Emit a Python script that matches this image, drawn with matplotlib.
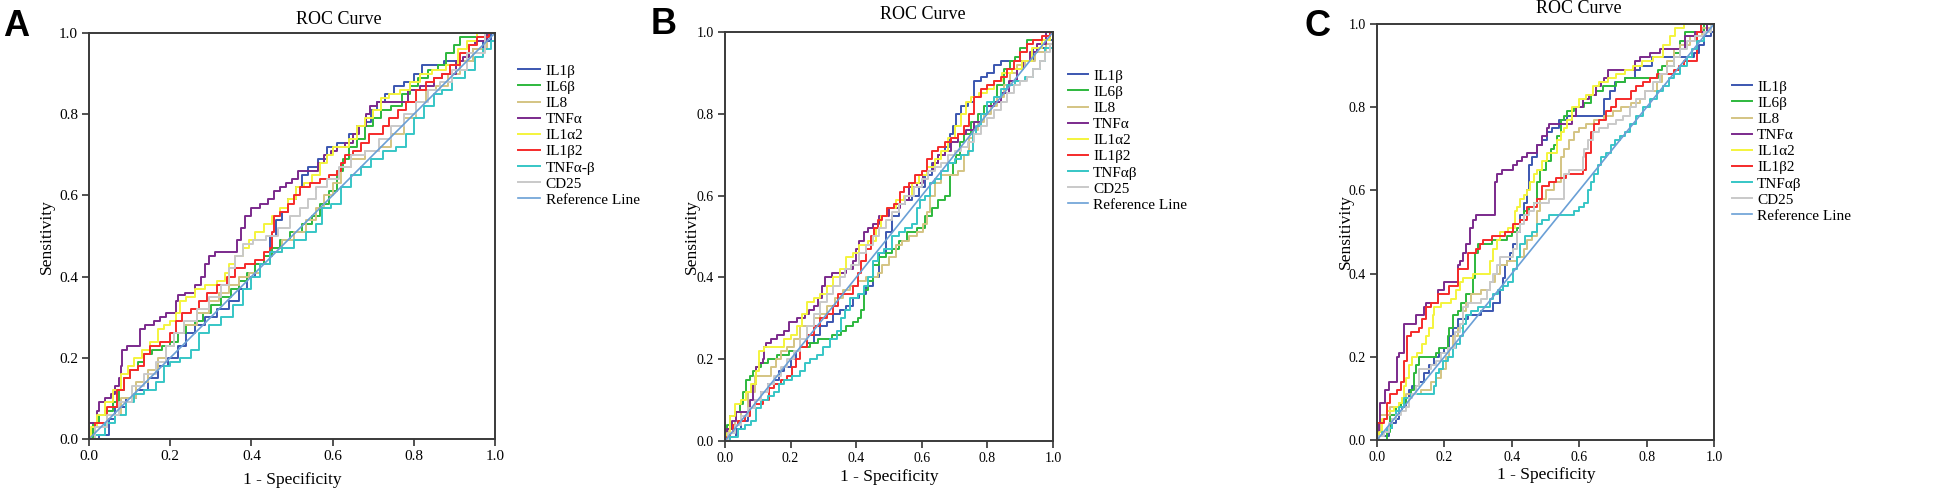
import matplotlib
matplotlib.use("Agg")
import matplotlib.pyplot as plt

plt.rcParams["font.family"] = ["Liberation Serif", "DejaVu Serif"]

# series names (panel A spells TNFα-β, panels B/C TNFαβ)
NAMES_A = ["IL1β", "IL6β", "IL8", "TNFα", "IL1α2", "IL1β2", "TNFα-β", "CD25"]
NAMES_BC = ["IL1β", "IL6β", "IL8", "TNFα", "IL1α2", "IL1β2", "TNFαβ", "CD25"]
COLORS = ["#3b56b0", "#2db83d", "#d4c483", "#7b2a8c", "#f4f43c",
          "#f52a2a", "#36c6c6", "#c9c9c9"]
REF_COLOR = "#6a9fd6"

# ---- panel A: (1 - specificity, sensitivity) vertices ----
A_IL1B = [(0, 0), (0.05, 0.01), (0.05, 0.05), (0.08, 0.08), (0.10, 0.10), (0.13, 0.12), (0.16, 0.15),
          (0.18, 0.18), (0.21, 0.20), (0.23, 0.23), (0.25, 0.26), (0.27, 0.28), (0.30, 0.30), (0.33, 0.32),
          (0.36, 0.34), (0.38, 0.37), (0.40, 0.40), (0.42, 0.43), (0.44, 0.45), (0.45, 0.50), (0.47, 0.54),
          (0.48, 0.56), (0.50, 0.59), (0.52, 0.62), (0.53, 0.65), (0.55, 0.67), (0.58, 0.69), (0.59, 0.72),
          (0.63, 0.73), (0.65, 0.75), (0.67, 0.77), (0.69, 0.78), (0.70, 0.81), (0.72, 0.83), (0.74, 0.85),
          (0.76, 0.87), (0.79, 0.88), (0.81, 0.90), (0.83, 0.92), (0.86, 0.92), (0.89, 0.93), (0.93, 0.93),
          (0.96, 0.96), (0.98, 0.98), (1, 1)]
A_IL6B = [(0, 0), (0.02, 0.04), (0.03, 0.06), (0.05, 0.07), (0.07, 0.09), (0.08, 0.12), (0.09, 0.15),
          (0.11, 0.17), (0.13, 0.19), (0.14, 0.21), (0.17, 0.22), (0.19, 0.23), (0.21, 0.24), (0.23, 0.26),
          (0.25, 0.28), (0.27, 0.29), (0.29, 0.31), (0.31, 0.33), (0.34, 0.35), (0.36, 0.37), (0.38, 0.39),
          (0.40, 0.41), (0.42, 0.43), (0.44, 0.45), (0.46, 0.47), (0.48, 0.49), (0.51, 0.51), (0.54, 0.53),
          (0.56, 0.55), (0.58, 0.58), (0.60, 0.61), (0.62, 0.66), (0.63, 0.69), (0.65, 0.72), (0.67, 0.74),
          (0.69, 0.77), (0.71, 0.79), (0.73, 0.81), (0.76, 0.82), (0.78, 0.85), (0.80, 0.87), (0.82, 0.89),
          (0.85, 0.91), (0.87, 0.92), (0.89, 0.95), (0.91, 0.97), (0.92, 0.99), (0.97, 0.99), (1, 1)]
A_IL8 = [(0, 0), (0.03, 0.03), (0.06, 0.06), (0.10, 0.10), (0.13, 0.14), (0.16, 0.17), (0.18, 0.20),
         (0.20, 0.23), (0.22, 0.26), (0.25, 0.28), (0.28, 0.31), (0.31, 0.34), (0.33, 0.36), (0.36, 0.38),
         (0.38, 0.40), (0.41, 0.41), (0.43, 0.43), (0.46, 0.46), (0.49, 0.49), (0.52, 0.51), (0.55, 0.54),
         (0.57, 0.57), (0.59, 0.60), (0.61, 0.63), (0.63, 0.67), (0.66, 0.69), (0.70, 0.71), (0.73, 0.72),
         (0.76, 0.75), (0.79, 0.79), (0.82, 0.83), (0.84, 0.86), (0.87, 0.87), (0.90, 0.90), (0.93, 0.93),
         (0.96, 0.96), (1, 1)]
A_TNFA = [(0, 0), (0, 0.04), (0.02, 0.04), (0.02, 0.07), (0.03, 0.09), (0.05, 0.10), (0.06, 0.11),
          (0.07, 0.13), (0.08, 0.15), (0.08, 0.18), (0.085, 0.22), (0.10, 0.23), (0.125, 0.23), (0.125, 0.27),
          (0.15, 0.28), (0.17, 0.29), (0.18, 0.30), (0.20, 0.31), (0.215, 0.31), (0.215, 0.34), (0.225, 0.355),
          (0.25, 0.36), (0.27, 0.38), (0.28, 0.40), (0.29, 0.43), (0.30, 0.45), (0.32, 0.46), (0.36, 0.46),
          (0.37, 0.49), (0.38, 0.52), (0.39, 0.55), (0.41, 0.57), (0.43, 0.58), (0.45, 0.59), (0.46, 0.61),
          (0.48, 0.62), (0.49, 0.63), (0.51, 0.64), (0.52, 0.66), (0.56, 0.66), (0.57, 0.68), (0.59, 0.70),
          (0.60, 0.71), (0.62, 0.72), (0.64, 0.73), (0.66, 0.75), (0.67, 0.77), (0.68, 0.77), (0.685, 0.80),
          (0.70, 0.82), (0.72, 0.83), (0.78, 0.83), (0.79, 0.86), (0.84, 0.87), (0.86, 0.89), (0.88, 0.90),
          (0.90, 0.90), (0.91, 0.93), (0.93, 0.94), (0.94, 0.97), (0.96, 0.98), (1, 1)]
A_IL1A2 = [(0, 0), (0.01, 0.03), (0.03, 0.06), (0.05, 0.09), (0.07, 0.12), (0.09, 0.16), (0.10, 0.18),
           (0.12, 0.20), (0.14, 0.22), (0.16, 0.24), (0.18, 0.27), (0.19, 0.28), (0.21, 0.29), (0.22, 0.31),
           (0.23, 0.34), (0.25, 0.35), (0.27, 0.37), (0.30, 0.38), (0.33, 0.39), (0.34, 0.41), (0.35, 0.43),
           (0.37, 0.45), (0.39, 0.47), (0.40, 0.49), (0.42, 0.51), (0.44, 0.53), (0.46, 0.55), (0.48, 0.57),
           (0.50, 0.59), (0.52, 0.62), (0.54, 0.63), (0.56, 0.65), (0.58, 0.68), (0.59, 0.70), (0.61, 0.72),
           (0.63, 0.72), (0.65, 0.74), (0.67, 0.77), (0.69, 0.79), (0.71, 0.81), (0.73, 0.84), (0.75, 0.85),
           (0.78, 0.86), (0.80, 0.88), (0.83, 0.90), (0.86, 0.91), (0.90, 0.92), (0.92, 0.96), (0.94, 0.98),
           (0.97, 1.0), (1, 1)]
A_IL1B2 = [(0, 0), (0.03, 0.04), (0.06, 0.08), (0.08, 0.12), (0.09, 0.15), (0.11, 0.17), (0.13, 0.18),
           (0.14, 0.21), (0.16, 0.23), (0.19, 0.24), (0.21, 0.26), (0.22, 0.29), (0.24, 0.31), (0.26, 0.32),
           (0.28, 0.34), (0.30, 0.36), (0.33, 0.38), (0.35, 0.40), (0.37, 0.42), (0.40, 0.43), (0.42, 0.44),
           (0.44, 0.46), (0.45, 0.47), (0.45, 0.51), (0.46, 0.55), (0.48, 0.56), (0.50, 0.58), (0.51, 0.60),
           (0.53, 0.62), (0.56, 0.63), (0.58, 0.64), (0.60, 0.65), (0.62, 0.66), (0.62, 0.68), (0.64, 0.70),
           (0.66, 0.71), (0.68, 0.73), (0.70, 0.75), (0.72, 0.75), (0.73, 0.77), (0.75, 0.79), (0.77, 0.81),
           (0.79, 0.83), (0.82, 0.86), (0.84, 0.88), (0.86, 0.89), (0.88, 0.90), (0.90, 0.92), (0.93, 0.95),
           (0.94, 0.97), (0.97, 0.99), (1, 1)]
A_TNFAB = [(0, 0), (0.03, 0.01), (0.05, 0.04), (0.08, 0.06), (0.10, 0.09), (0.12, 0.11), (0.15, 0.12),
           (0.18, 0.14), (0.19, 0.18), (0.21, 0.19), (0.24, 0.20), (0.26, 0.22), (0.28, 0.26), (0.31, 0.28),
           (0.34, 0.30), (0.37, 0.33), (0.39, 0.37), (0.41, 0.40), (0.43, 0.43), (0.46, 0.46), (0.49, 0.47),
           (0.52, 0.49), (0.55, 0.51), (0.57, 0.53), (0.58, 0.57), (0.61, 0.58), (0.63, 0.62), (0.66, 0.65),
           (0.68, 0.67), (0.71, 0.69), (0.74, 0.71), (0.77, 0.72), (0.79, 0.75), (0.81, 0.79), (0.84, 0.82),
           (0.86, 0.85), (0.88, 0.86), (0.91, 0.89), (0.94, 0.91), (0.96, 0.94), (0.98, 0.96), (1, 0.98),
           (1, 1)]
A_CD25 = [(0, 0), (0.03, 0.03), (0.06, 0.06), (0.09, 0.09), (0.12, 0.13), (0.15, 0.16), (0.18, 0.19),
          (0.20, 0.23), (0.22, 0.26), (0.25, 0.29), (0.28, 0.32), (0.31, 0.35), (0.34, 0.38), (0.35, 0.42),
          (0.37, 0.45), (0.39, 0.48), (0.42, 0.49), (0.45, 0.50), (0.48, 0.52), (0.51, 0.55), (0.53, 0.57),
          (0.55, 0.59), (0.57, 0.62), (0.60, 0.64), (0.63, 0.67), (0.66, 0.70), (0.70, 0.71), (0.73, 0.74),
          (0.76, 0.77), (0.79, 0.80), (0.82, 0.83), (0.85, 0.86), (0.88, 0.88), (0.91, 0.91), (0.95, 0.95),
          (1, 1)]

# ---- panel B ----
B_IL1B = [(0, 0), (0.03, 0.01), (0.04, 0.03), (0.06, 0.05), (0.08, 0.08), (0.10, 0.10), (0.12, 0.12),
          (0.14, 0.14), (0.16, 0.15), (0.17, 0.17), (0.19, 0.18), (0.21, 0.20), (0.22, 0.22), (0.24, 0.23),
          (0.26, 0.24), (0.28, 0.26), (0.30, 0.28), (0.32, 0.29), (0.34, 0.31), (0.36, 0.32), (0.38, 0.33),
          (0.40, 0.35), (0.42, 0.36), (0.44, 0.38), (0.46, 0.40), (0.48, 0.46), (0.50, 0.51), (0.52, 0.55),
          (0.54, 0.58), (0.56, 0.59), (0.58, 0.60), (0.60, 0.62), (0.62, 0.65), (0.64, 0.68), (0.66, 0.70),
          (0.68, 0.72), (0.69, 0.75), (0.70, 0.77), (0.71, 0.80), (0.73, 0.82), (0.75, 0.83), (0.77, 0.88),
          (0.79, 0.89), (0.81, 0.90), (0.83, 0.92), (0.85, 0.93), (0.88, 0.93), (0.92, 0.93), (0.96, 0.96),
          (1, 0.98), (1, 1)]
B_IL6B = [(0, 0), (0.01, 0.04), (0.02, 0.06), (0.04, 0.07), (0.05, 0.09), (0.06, 0.12), (0.07, 0.15),
          (0.08, 0.16), (0.09, 0.17), (0.10, 0.18), (0.12, 0.19), (0.14, 0.20), (0.18, 0.21), (0.21, 0.22),
          (0.25, 0.23), (0.27, 0.24), (0.30, 0.25), (0.35, 0.26), (0.36, 0.27), (0.38, 0.28), (0.40, 0.29),
          (0.41, 0.30), (0.42, 0.32), (0.43, 0.37), (0.44, 0.39), (0.46, 0.43), (0.48, 0.45), (0.50, 0.46),
          (0.52, 0.47), (0.54, 0.49), (0.57, 0.51), (0.60, 0.52), (0.62, 0.55), (0.64, 0.57), (0.66, 0.59),
          (0.68, 0.60), (0.69, 0.65), (0.70, 0.68), (0.71, 0.70), (0.72, 0.73), (0.74, 0.75), (0.76, 0.78),
          (0.78, 0.80), (0.80, 0.82), (0.82, 0.83), (0.84, 0.87), (0.86, 0.91), (0.88, 0.93), (0.89, 0.94),
          (0.91, 0.96), (0.93, 0.98), (0.98, 0.98), (1, 1)]
B_IL8 = [(0, 0), (0.02, 0.03), (0.04, 0.05), (0.06, 0.07), (0.08, 0.12), (0.10, 0.16), (0.13, 0.16),
         (0.15, 0.18), (0.16, 0.20), (0.18, 0.22), (0.20, 0.23), (0.22, 0.25), (0.24, 0.28), (0.26, 0.28),
         (0.28, 0.30), (0.30, 0.31), (0.32, 0.33), (0.35, 0.35), (0.37, 0.37), (0.39, 0.38), (0.42, 0.39),
         (0.44, 0.40), (0.46, 0.40), (0.47, 0.41), (0.49, 0.43), (0.51, 0.45), (0.53, 0.48), (0.55, 0.49),
         (0.57, 0.50), (0.60, 0.51), (0.61, 0.53), (0.62, 0.56), (0.63, 0.60), (0.65, 0.63), (0.67, 0.65),
         (0.70, 0.65), (0.72, 0.66), (0.74, 0.70), (0.75, 0.74), (0.76, 0.76), (0.78, 0.78), (0.80, 0.80),
         (0.82, 0.82), (0.84, 0.84), (0.86, 0.87), (0.88, 0.90), (0.90, 0.92), (0.93, 0.93), (0.96, 0.95),
         (1, 0.97), (1, 1)]
B_TNFA = [(0, 0), (0.01, 0.03), (0.03, 0.05), (0.04, 0.07), (0.07, 0.07), (0.08, 0.10), (0.09, 0.14),
          (0.10, 0.18), (0.11, 0.19), (0.12, 0.20), (0.12, 0.23), (0.13, 0.24), (0.15, 0.25), (0.17, 0.26),
          (0.19, 0.27), (0.20, 0.29), (0.24, 0.30), (0.25, 0.31), (0.26, 0.32), (0.28, 0.33), (0.29, 0.35),
          (0.30, 0.38), (0.31, 0.40), (0.34, 0.41), (0.36, 0.41), (0.38, 0.42), (0.40, 0.44), (0.40, 0.47),
          (0.42, 0.49), (0.43, 0.51), (0.44, 0.52), (0.46, 0.53), (0.48, 0.55), (0.52, 0.57), (0.55, 0.59),
          (0.57, 0.62), (0.60, 0.63), (0.61, 0.65), (0.63, 0.66), (0.64, 0.68), (0.66, 0.70), (0.68, 0.71),
          (0.70, 0.73), (0.72, 0.75), (0.75, 0.76), (0.77, 0.78), (0.79, 0.80), (0.81, 0.82), (0.83, 0.83),
          (0.85, 0.85), (0.88, 0.88), (0.90, 0.91), (0.92, 0.93), (0.94, 0.95), (0.96, 0.97), (1, 1)]
B_IL1A2 = [(0, 0), (0.01, 0.02), (0.02, 0.06), (0.04, 0.09), (0.06, 0.10), (0.07, 0.12), (0.09, 0.14),
           (0.10, 0.17), (0.11, 0.22), (0.13, 0.23), (0.17, 0.23), (0.19, 0.25), (0.21, 0.26), (0.23, 0.28),
           (0.24, 0.31), (0.26, 0.34), (0.28, 0.35), (0.30, 0.36), (0.32, 0.38), (0.34, 0.40), (0.36, 0.42),
           (0.38, 0.45), (0.40, 0.46), (0.42, 0.48), (0.45, 0.49), (0.47, 0.52), (0.48, 0.55), (0.51, 0.57),
           (0.53, 0.59), (0.56, 0.60), (0.58, 0.63), (0.60, 0.65), (0.63, 0.67), (0.65, 0.69), (0.67, 0.71),
           (0.69, 0.74), (0.71, 0.77), (0.73, 0.80), (0.74, 0.83), (0.76, 0.84), (0.79, 0.85), (0.81, 0.86),
           (0.83, 0.88), (0.86, 0.90), (0.89, 0.91), (0.92, 0.93), (0.95, 0.96), (0.98, 0.98), (1, 1)]
B_IL1B2 = [(0, 0), (0.01, 0.01), (0.02, 0.02), (0.03, 0.04), (0.05, 0.05), (0.07, 0.06), (0.08, 0.08),
           (0.10, 0.09), (0.13, 0.10), (0.14, 0.13), (0.16, 0.14), (0.18, 0.15), (0.20, 0.16), (0.21, 0.18),
           (0.22, 0.20), (0.24, 0.23), (0.26, 0.26), (0.28, 0.28), (0.30, 0.30), (0.32, 0.31), (0.34, 0.33),
           (0.35, 0.36), (0.38, 0.36), (0.40, 0.38), (0.41, 0.41), (0.42, 0.44), (0.44, 0.47), (0.45, 0.50),
           (0.46, 0.52), (0.47, 0.54), (0.49, 0.55), (0.50, 0.57), (0.53, 0.58), (0.54, 0.61), (0.55, 0.62),
           (0.57, 0.63), (0.59, 0.65), (0.61, 0.66), (0.62, 0.69), (0.64, 0.71), (0.66, 0.72), (0.68, 0.73),
           (0.70, 0.74), (0.72, 0.75), (0.74, 0.77), (0.75, 0.80), (0.77, 0.84), (0.79, 0.86), (0.81, 0.87),
           (0.83, 0.88), (0.85, 0.89), (0.87, 0.91), (0.89, 0.93), (0.91, 0.95), (0.93, 0.97), (0.95, 0.98),
           (0.98, 0.99), (1, 1)]
B_TNFAB = [(0, 0), (0.03, 0.01), (0.05, 0.03), (0.07, 0.04), (0.09, 0.05), (0.10, 0.08), (0.12, 0.10),
           (0.14, 0.11), (0.16, 0.12), (0.17, 0.14), (0.19, 0.15), (0.22, 0.16), (0.24, 0.17), (0.25, 0.19),
           (0.27, 0.20), (0.29, 0.21), (0.31, 0.23), (0.33, 0.25), (0.35, 0.27), (0.36, 0.30), (0.37, 0.32),
           (0.39, 0.35), (0.42, 0.36), (0.43, 0.38), (0.44, 0.40), (0.46, 0.44), (0.47, 0.46), (0.50, 0.47),
           (0.52, 0.50), (0.54, 0.51), (0.56, 0.52), (0.58, 0.53), (0.59, 0.57), (0.60, 0.59), (0.62, 0.60),
           (0.63, 0.63), (0.65, 0.64), (0.67, 0.66), (0.69, 0.68), (0.71, 0.69), (0.73, 0.70), (0.75, 0.71),
           (0.76, 0.75), (0.77, 0.77), (0.79, 0.80), (0.81, 0.83), (0.83, 0.84), (0.85, 0.86), (0.87, 0.87),
           (0.90, 0.88), (0.93, 0.89), (0.95, 0.91), (0.97, 0.93), (0.98, 0.96), (1, 0.96), (1, 1)]
B_CD25 = [(0, 0), (0.02, 0.02), (0.04, 0.04), (0.06, 0.06), (0.08, 0.08), (0.10, 0.10), (0.12, 0.12),
          (0.14, 0.14), (0.16, 0.16), (0.18, 0.18), (0.20, 0.20), (0.22, 0.22), (0.24, 0.25), (0.26, 0.28),
          (0.28, 0.31), (0.30, 0.34), (0.32, 0.36), (0.34, 0.38), (0.36, 0.40), (0.37, 0.42), (0.40, 0.43),
          (0.42, 0.46), (0.44, 0.48), (0.46, 0.50), (0.48, 0.52), (0.50, 0.54), (0.52, 0.56), (0.54, 0.58),
          (0.56, 0.60), (0.59, 0.62), (0.61, 0.64), (0.63, 0.66), (0.65, 0.67), (0.67, 0.68), (0.69, 0.70),
          (0.71, 0.71), (0.73, 0.72), (0.75, 0.73), (0.77, 0.75), (0.79, 0.77), (0.81, 0.79), (0.83, 0.81),
          (0.85, 0.83), (0.87, 0.85), (0.89, 0.87), (0.91, 0.88), (0.93, 0.89), (0.95, 0.91), (0.97, 0.93),
          (0.98, 0.95), (1, 0.97), (1, 1)]

# ---- panel C ----
C_IL1B = [(0, 0), (0.01, 0.01), (0.03, 0.01), (0.04, 0.03), (0.05, 0.04), (0.06, 0.05), (0.07, 0.07),
          (0.08, 0.08), (0.09, 0.10), (0.10, 0.12), (0.11, 0.13), (0.12, 0.13), (0.13, 0.14), (0.15, 0.16),
          (0.16, 0.18), (0.18, 0.20), (0.19, 0.21), (0.21, 0.22), (0.22, 0.25), (0.23, 0.27), (0.25, 0.29),
          (0.29, 0.30), (0.33, 0.31), (0.36, 0.33), (0.37, 0.36), (0.38, 0.39), (0.38, 0.42), (0.39, 0.43),
          (0.40, 0.45), (0.41, 0.47), (0.42, 0.50), (0.43, 0.54), (0.44, 0.57), (0.45, 0.60), (0.45, 0.66),
          (0.47, 0.68), (0.48, 0.71), (0.50, 0.72), (0.51, 0.74), (0.53, 0.75), (0.55, 0.77), (0.58, 0.78),
          (0.67, 0.78), (0.68, 0.82), (0.70, 0.84), (0.71, 0.86), (0.76, 0.87), (0.77, 0.89), (0.79, 0.90),
          (0.84, 0.92), (0.93, 0.92), (0.95, 0.93), (0.96, 0.95), (0.98, 0.97), (1, 0.98), (1, 1)]
C_IL6B = [(0, 0), (0.03, 0.0), (0.03, 0.02), (0.05, 0.06), (0.06, 0.08), (0.08, 0.09), (0.09, 0.10),
          (0.11, 0.12), (0.11, 0.16), (0.12, 0.18), (0.13, 0.20), (0.17, 0.20), (0.18, 0.21), (0.19, 0.22),
          (0.21, 0.22), (0.21, 0.25), (0.22, 0.27), (0.23, 0.30), (0.25, 0.31), (0.25, 0.33), (0.28, 0.35),
          (0.29, 0.39), (0.29, 0.45), (0.31, 0.47), (0.33, 0.47), (0.35, 0.48), (0.38, 0.48), (0.39, 0.49),
          (0.41, 0.50), (0.42, 0.51), (0.43, 0.53), (0.44, 0.55), (0.46, 0.56), (0.47, 0.57), (0.48, 0.62),
          (0.49, 0.65), (0.51, 0.67), (0.52, 0.70), (0.53, 0.71), (0.54, 0.73), (0.55, 0.77), (0.56, 0.78),
          (0.57, 0.79), (0.60, 0.80), (0.63, 0.81), (0.64, 0.83), (0.66, 0.84), (0.68, 0.85), (0.70, 0.85),
          (0.72, 0.86), (0.75, 0.87), (0.83, 0.87), (0.84, 0.89), (0.85, 0.90), (0.87, 0.90), (0.89, 0.93),
          (0.91, 0.96), (0.92, 0.98), (0.96, 0.98), (0.98, 1.0), (1, 1)]
C_IL8 = [(0, 0), (0, 0.02), (0.02, 0.06), (0.04, 0.06), (0.04, 0.08), (0.06, 0.08), (0.07, 0.09),
         (0.08, 0.10), (0.09, 0.11), (0.11, 0.11), (0.15, 0.12), (0.17, 0.14), (0.18, 0.15), (0.20, 0.17),
         (0.21, 0.20), (0.22, 0.22), (0.23, 0.25), (0.25, 0.27), (0.26, 0.31), (0.27, 0.33), (0.29, 0.35),
         (0.33, 0.36), (0.34, 0.38), (0.36, 0.40), (0.37, 0.42), (0.40, 0.43), (0.43, 0.44), (0.44, 0.46),
         (0.45, 0.48), (0.47, 0.49), (0.48, 0.55), (0.49, 0.58), (0.51, 0.60), (0.54, 0.62), (0.55, 0.68),
         (0.56, 0.70), (0.58, 0.72), (0.59, 0.74), (0.61, 0.75), (0.63, 0.76), (0.66, 0.77), (0.69, 0.78),
         (0.71, 0.79), (0.74, 0.80), (0.77, 0.81), (0.79, 0.82), (0.80, 0.84), (0.82, 0.84), (0.84, 0.86),
         (0.85, 0.88), (0.87, 0.91), (0.89, 0.94), (0.91, 0.95), (0.95, 0.97), (0.98, 0.99), (1, 1)]
C_TNFA = [(0, 0), (0.01, 0.04), (0.01, 0.09), (0.02, 0.09), (0.03, 0.12), (0.04, 0.14), (0.06, 0.14),
          (0.06, 0.20), (0.07, 0.21), (0.08, 0.21), (0.08, 0.28), (0.11, 0.28), (0.12, 0.30), (0.14, 0.30),
          (0.14, 0.32), (0.15, 0.33), (0.18, 0.33), (0.18, 0.36), (0.20, 0.36), (0.20, 0.38), (0.24, 0.38),
          (0.24, 0.42), (0.25, 0.43), (0.26, 0.45), (0.27, 0.47), (0.28, 0.51), (0.29, 0.53), (0.30, 0.54),
          (0.35, 0.54), (0.35, 0.62), (0.36, 0.64), (0.38, 0.65), (0.40, 0.65), (0.41, 0.66), (0.42, 0.67),
          (0.44, 0.68), (0.45, 0.69), (0.47, 0.69), (0.48, 0.71), (0.50, 0.73), (0.51, 0.75), (0.51, 0.76),
          (0.58, 0.76), (0.58, 0.78), (0.60, 0.80), (0.62, 0.82), (0.64, 0.83), (0.66, 0.85), (0.67, 0.86),
          (0.68, 0.87), (0.69, 0.89), (0.76, 0.89), (0.77, 0.91), (0.79, 0.92), (0.83, 0.93), (0.85, 0.94),
          (0.90, 0.94), (0.93, 0.97), (0.96, 0.98), (1, 1)]
C_IL1A2 = [(0, 0), (0.01, 0.02), (0.02, 0.05), (0.04, 0.07), (0.06, 0.08), (0.07, 0.09), (0.08, 0.10),
           (0.08, 0.13), (0.09, 0.15), (0.10, 0.18), (0.11, 0.20), (0.13, 0.21), (0.14, 0.23), (0.15, 0.25),
           (0.16, 0.27), (0.17, 0.30), (0.17, 0.32), (0.21, 0.33), (0.23, 0.34), (0.24, 0.36), (0.25, 0.38),
           (0.26, 0.39), (0.28, 0.39), (0.29, 0.40), (0.33, 0.40), (0.34, 0.43), (0.35, 0.46), (0.36, 0.48),
           (0.37, 0.50), (0.41, 0.51), (0.41, 0.55), (0.42, 0.56), (0.43, 0.58), (0.44, 0.59), (0.45, 0.60),
           (0.46, 0.62), (0.47, 0.64), (0.48, 0.65), (0.50, 0.67), (0.51, 0.69), (0.53, 0.69), (0.54, 0.72),
           (0.55, 0.74), (0.56, 0.75), (0.57, 0.77), (0.59, 0.80), (0.61, 0.82), (0.63, 0.83), (0.65, 0.85),
           (0.67, 0.86), (0.70, 0.87), (0.72, 0.88), (0.75, 0.89), (0.77, 0.90), (0.80, 0.91), (0.84, 0.92),
           (0.86, 0.95), (0.88, 0.97), (0.89, 0.99), (0.93, 1.0), (1, 1)]
C_IL1B2 = [(0, 0), (0, 0.04), (0.02, 0.04), (0.02, 0.05), (0.03, 0.05), (0.03, 0.09), (0.05, 0.11),
           (0.07, 0.12), (0.07, 0.14), (0.08, 0.14), (0.08, 0.19), (0.09, 0.19), (0.09, 0.25), (0.11, 0.26),
           (0.12, 0.26), (0.13, 0.27), (0.14, 0.29), (0.15, 0.32), (0.17, 0.33), (0.18, 0.33), (0.18, 0.35),
           (0.21, 0.35), (0.22, 0.37), (0.24, 0.37), (0.24, 0.41), (0.27, 0.41), (0.27, 0.45), (0.29, 0.45),
           (0.30, 0.46), (0.31, 0.47), (0.32, 0.48), (0.36, 0.49), (0.40, 0.50), (0.41, 0.52), (0.44, 0.53),
           (0.45, 0.56), (0.47, 0.56), (0.48, 0.58), (0.50, 0.61), (0.52, 0.62), (0.54, 0.63), (0.56, 0.63),
           (0.56, 0.64), (0.60, 0.64), (0.62, 0.65), (0.62, 0.69), (0.63, 0.69), (0.64, 0.74), (0.65, 0.76),
           (0.67, 0.77), (0.69, 0.79), (0.70, 0.80), (0.72, 0.82), (0.75, 0.82), (0.76, 0.84), (0.78, 0.85),
           (0.80, 0.86), (0.82, 0.87), (0.84, 0.88), (0.87, 0.88), (0.89, 0.89), (0.90, 0.90), (0.92, 0.91),
           (0.95, 0.91), (0.95, 0.98), (0.97, 1.0), (1, 1)]
C_TNFAB = [(0, 0), (0.01, 0.01), (0.02, 0.02), (0.04, 0.03), (0.05, 0.05), (0.06, 0.07), (0.07, 0.08),
           (0.09, 0.10), (0.11, 0.11), (0.17, 0.11), (0.17, 0.13), (0.18, 0.16), (0.19, 0.17), (0.20, 0.19),
           (0.22, 0.20), (0.23, 0.22), (0.24, 0.23), (0.25, 0.25), (0.26, 0.28), (0.27, 0.30), (0.29, 0.31),
           (0.31, 0.32), (0.33, 0.32), (0.34, 0.34), (0.35, 0.35), (0.37, 0.36), (0.38, 0.37), (0.40, 0.38),
           (0.41, 0.41), (0.42, 0.44), (0.43, 0.47), (0.45, 0.49), (0.47, 0.50), (0.48, 0.52), (0.50, 0.53),
           (0.52, 0.54), (0.58, 0.54), (0.59, 0.55), (0.61, 0.56), (0.62, 0.57), (0.63, 0.60), (0.64, 0.62),
           (0.65, 0.64), (0.66, 0.66), (0.67, 0.68), (0.69, 0.69), (0.70, 0.71), (0.71, 0.72), (0.73, 0.73),
           (0.74, 0.74), (0.76, 0.76), (0.78, 0.78), (0.80, 0.80), (0.82, 0.82), (0.84, 0.84), (0.86, 0.85),
           (0.87, 0.87), (0.89, 0.88), (0.91, 0.90), (0.93, 0.92), (0.94, 0.94), (0.96, 0.96), (0.98, 0.98),
           (1, 1)]
C_CD25 = [(0, 0), (0.01, 0.01), (0.03, 0.02), (0.04, 0.04), (0.05, 0.05), (0.06, 0.06), (0.08, 0.07),
          (0.09, 0.08), (0.10, 0.10), (0.11, 0.11), (0.12, 0.13), (0.13, 0.17), (0.15, 0.17), (0.17, 0.18),
          (0.18, 0.19), (0.20, 0.21), (0.22, 0.22), (0.24, 0.26), (0.25, 0.28), (0.26, 0.32), (0.28, 0.33),
          (0.30, 0.33), (0.32, 0.34), (0.33, 0.36), (0.34, 0.38), (0.35, 0.40), (0.36, 0.42), (0.37, 0.44),
          (0.40, 0.44), (0.41, 0.46), (0.42, 0.50), (0.43, 0.52), (0.44, 0.54), (0.46, 0.55), (0.47, 0.57),
          (0.55, 0.58), (0.56, 0.64), (0.58, 0.65), (0.61, 0.65), (0.61, 0.68), (0.62, 0.70), (0.63, 0.72),
          (0.65, 0.74), (0.67, 0.75), (0.70, 0.76), (0.72, 0.77), (0.74, 0.78), (0.76, 0.80), (0.78, 0.82),
          (0.81, 0.84), (0.83, 0.86), (0.85, 0.88), (0.87, 0.90), (0.89, 0.92), (0.91, 0.94), (0.93, 0.96),
          (0.96, 0.97), (0.98, 0.98), (1, 1)]

TICKS = [0.0, 0.2, 0.4, 0.6, 0.8, 1.0]
TICK_LABELS = ["0.0", "0.2", "0.4", "0.6", "0.8", "1.0"]

fig = plt.figure(figsize=(19.46, 4.90), dpi=100)


def px(x, y):
    # pixel position of the 1946x490 canvas -> figure fraction
    return x / 1946, 1 - y / 490


def draw_panel(rect, curves, names, letter, letter_xy, title_xy, xlab_xy,
               ylab_xy, legend_xy, tick_fs, handle_len):
    ax = fig.add_axes(rect)
    handles = []
    for pts, color in zip(curves, COLORS):
        xs = [p[0] for p in pts]
        ys = [p[1] for p in pts]
        ln, = ax.step(xs, ys, where="mid", color=color, lw=1.4)
        handles.append(ln)
    ref, = ax.plot([0, 1], [0, 1], color=REF_COLOR, lw=1.2)
    handles.append(ref)

    ax.set_xlim(0, 1)
    ax.set_ylim(0, 1)
    ax.set_xticks(TICKS)
    ax.set_xticklabels(TICK_LABELS)
    ax.set_yticks(TICKS)
    ax.set_yticklabels(TICK_LABELS)
    ax.tick_params(direction="out", length=5, width=1.2, labelsize=tick_fs,
                   color="#333333", pad=3)
    for sp in ax.spines.values():
        sp.set_color("#3a3a3a")
        sp.set_linewidth(1.4)

    fig.text(*px(*title_xy), "ROC Curve", ha="center", va="top", fontsize=13)
    fig.text(*px(*xlab_xy), "1 - Specificity", ha="center", va="center", fontsize=12.5)
    fig.text(*px(*ylab_xy), "Sensitivity", ha="center", va="center",
             rotation=90, fontsize=12.5)
    fig.text(*px(*letter_xy), letter, ha="left", va="center", fontsize=26,
             fontweight="bold", family="Liberation Sans")

    ax.legend(handles, names + ["Reference Line"], loc="upper left",
              bbox_to_anchor=px(*legend_xy), bbox_transform=fig.transFigure,
              frameon=False, fontsize=11, handlelength=handle_len,
              handletextpad=0.35, labelspacing=0.16, borderpad=0,
              borderaxespad=0)
    return ax


draw_panel([89 / 1946, 1 - 439 / 490, 406 / 1946, 406 / 490],
           [A_IL1B, A_IL6B, A_IL8, A_TNFA, A_IL1A2, A_IL1B2, A_TNFAB, A_CD25],
           NAMES_A, "A", (3, 26), (339, 11), (292, 480), (47, 237),
           (518, 64), 11, 1.45)
draw_panel([725 / 1946, 1 - 441 / 490, 328 / 1946, 409 / 490],
           [B_IL1B, B_IL6B, B_IL8, B_TNFA, B_IL1A2, B_IL1B2, B_TNFAB, B_CD25],
           NAMES_BC, "B", (651, 25), (923, 6), (889, 477), (692, 237),
           (1068, 69), 10, 1.3)
draw_panel([1377 / 1946, 1 - 440 / 490, 337 / 1946, 416 / 490],
           [C_IL1B, C_IL6B, C_IL8, C_TNFA, C_IL1A2, C_IL1B2, C_TNFAB, C_CD25],
           NAMES_BC, "C", (1305, 26), (1579, 0), (1546, 475), (1346, 232),
           (1732, 80), 10, 1.3)

fig.savefig("out.png", dpi=100)
